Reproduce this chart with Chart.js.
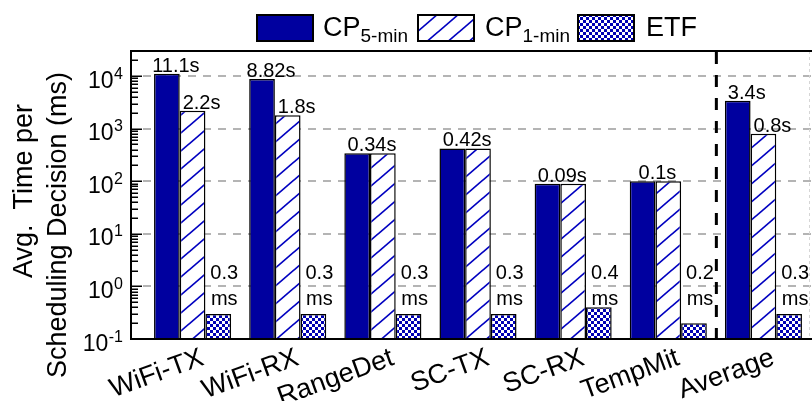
<!DOCTYPE html>
<html>
<head>
<meta charset="utf-8">
<script src="https://cdn.jsdelivr.net/npm/chart.js@4.4.1/dist/chart.umd.min.js"></script>
<style>
  html, body { margin: 0; padding: 0; background: #fff; }
  #wrap { position: relative; width: 812px; height: 401px; font-family: 'Liberation Sans', Arial, sans-serif; }
  #chart { position: absolute; left: 0; top: 0; }
  .sw { position: absolute; top: 14px; width: 58px; height: 28px; }
  .lt { position: absolute; top: 14px; font-size: 27px; line-height: 27px; color: #000; white-space: nowrap; }
  .lt sub { font-size: 19px; vertical-align: -6px; line-height: 0; }
</style>
</head>
<body>
<div id="wrap">
  <canvas id="chart" width="812" height="401"></canvas>
  <canvas class="sw" id="sw0" width="58" height="28" style="left:256px"></canvas>
  <span class="lt" style="left:323px">CP<sub>5-min</sub></span>
  <canvas class="sw" id="sw1" width="58" height="28" style="left:417px"></canvas>
  <span class="lt" style="left:485px">CP<sub>1-min</sub></span>
  <canvas class="sw" id="sw2" width="58" height="28" style="left:577px"></canvas>
  <span class="lt" style="left:646px">ETF</span>
</div>
<script>
// Benchmarks and the average time per scheduling decision (milliseconds)
const categories = ['WiFi-TX', 'WiFi-RX', 'RangeDet', 'SC-TX', 'SC-RX', 'TempMit', 'Average'];
const seriesNames = ['CP5-min', 'CP1-min', 'ETF'];
const cp5Ms = [11100, 8820, 340, 420, 90, 100, 3400];
const cp1Ms = [2200, 1800, 340, 420, 90, 100, 800];
const etfMs = [0.3, 0.3, 0.3, 0.3, 0.4, 0.2, 0.3];
const yExponents = [-1, 0, 1, 2, 3, 4];
const yTitleLines = ['Avg.  Time per', 'Scheduling Decision (ms)'];

const FONT = "'Liberation Sans', Arial, sans-serif";
const NAVY = '#00009f';
const LINE_BLUE = '#0000c0';

function hatchPattern() {
  const w = 21, h = 18;
  const c = document.createElement('canvas');
  c.width = w; c.height = h;
  const g = c.getContext('2d');
  g.fillStyle = '#fff';
  g.fillRect(0, 0, w, h);
  g.strokeStyle = LINE_BLUE;
  g.lineWidth = 1.7;
  for (const dx of [-w, 0, w]) {
    g.beginPath();
    g.moveTo(dx - w, 2 * h);
    g.lineTo(dx + 2 * w, -h);
    g.stroke();
  }
  return g.createPattern(c, 'repeat');
}

function checkerPattern() {
  const s = 3;
  const c = document.createElement('canvas');
  c.width = 2 * s; c.height = 2 * s;
  const g = c.getContext('2d');
  g.fillStyle = '#fff';
  g.fillRect(0, 0, 2 * s, 2 * s);
  g.fillStyle = '#0000b4';
  g.fillRect(0, 0, s, s);
  g.fillRect(s, s, s, s);
  return g.createPattern(c, 'repeat');
}

const fills = [NAVY, hatchPattern(), checkerPattern()];

// legend swatches
fills.forEach((f, i) => {
  const g = document.getElementById('sw' + i).getContext('2d');
  g.fillStyle = f;
  g.fillRect(0, 0, 58, 28);
  g.strokeStyle = '#000';
  g.lineWidth = 2;
  g.strokeRect(1, 1, 56, 26);
});

const secLabel = v => String(Number((v / 1000).toPrecision(3))) + 's';

// frame, gridlines, ticks, separator, axis title and value labels
const decor = {
  id: 'decor',
  beforeDatasetsDraw(chart) {
    const { ctx, chartArea, scales: { y } } = chart;
    const x0 = 131, x1 = 812;
    ctx.save();
    ctx.strokeStyle = '#b4b4b4';
    ctx.lineWidth = 2;
    ctx.setLineDash([8, 7]);
    for (const e of yExponents) {
      if (e === yExponents[0]) continue;
      const py = Math.round(y.getPixelForValue(Math.pow(10, e)));
      ctx.beginPath();
      ctx.moveTo(x0 + 12, py);
      ctx.lineTo(x1, py);
      ctx.stroke();
    }
    // faint right border
    ctx.strokeStyle = '#d6d6d6';
    ctx.lineWidth = 1;
    ctx.setLineDash([3, 3]);
    ctx.beginPath();
    ctx.moveTo(809.5, chartArea.top);
    ctx.lineTo(809.5, chartArea.bottom);
    ctx.stroke();
    ctx.restore();
  },
  afterDatasetsDraw(chart) {
    const { ctx, chartArea, scales: { x, y } } = chart;
    const x0 = 131, x1 = 812;
    const top = chartArea.top, bot = chartArea.bottom;
    ctx.save();
    // tick marks on the left axis, pointing inward
    ctx.strokeStyle = '#000';
    ctx.lineWidth = 1.5;
    const maxV = y.max;
    for (const e of yExponents) {
      for (let k = 1; k <= 9; k++) {
        const v = k * Math.pow(10, e);
        if (v > maxV * 1.0001) break;
        const py = Math.round(y.getPixelForValue(v)) + 0.25;
        const len = k === 1 ? 11 : 7;
        ctx.beginPath();
        ctx.moveTo(x0, py);
        ctx.lineTo(x0 + len, py);
        ctx.stroke();
      }
    }
    // separator before the average group
    const sx = (x.getPixelForValue(5) + x.getPixelForValue(6)) / 2 + 0.5;
    ctx.lineWidth = 3;
    ctx.setLineDash([12, 11]);
    ctx.beginPath();
    ctx.moveTo(sx, top + 1);
    ctx.lineTo(sx, bot);
    ctx.stroke();
    ctx.setLineDash([]);
    // frame
    ctx.lineWidth = 2;
    ctx.beginPath();
    ctx.moveTo(x1, top);
    ctx.lineTo(x0, top);
    ctx.lineTo(x0, bot);
    ctx.lineTo(x1, bot);
    ctx.stroke();

    // y tick labels 10^e
    ctx.fillStyle = '#000';
    const xr = 123;
    for (const e of yExponents) {
      const py = y.getPixelForValue(Math.pow(10, e));
      const ex = String(e);
      ctx.font = '16px ' + FONT;
      const ew = ctx.measureText(ex).width;
      ctx.textAlign = 'left';
      ctx.textBaseline = 'alphabetic';
      ctx.fillText(ex, xr - ew, py + 2.5);
      ctx.font = '23px ' + FONT;
      ctx.textAlign = 'right';
      ctx.fillText('10', xr - ew - 0.5, py + 11.5);
    }

    // y axis title, two rotated lines
    ctx.font = '27px ' + FONT;
    ctx.textAlign = 'center';
    ctx.textBaseline = 'middle';
    const titlePos = [[25, 191], [59, 225]];
    yTitleLines.forEach((t, i) => {
      ctx.save();
      ctx.translate(titlePos[i][0], titlePos[i][1]);
      ctx.rotate(-Math.PI / 2);
      ctx.fillText(t, 0, 0);
      ctx.restore();
    });

    // value labels
    ctx.font = '20px ' + FONT;
    ctx.textAlign = 'center';
    ctx.textBaseline = 'alphabetic';
    const m0 = chart.getDatasetMeta(0).data;
    const m1 = chart.getDatasetMeta(1).data;
    const m2 = chart.getDatasetMeta(2).data;
    const base = y.getPixelForValue(1);
    categories.forEach((c, i) => {
      if (cp5Ms[i] === cp1Ms[i]) {
        const bx = (m0[i].x + m1[i].x) / 2 + 2;
        ctx.fillText(secLabel(cp5Ms[i]), bx, Math.min(m0[i].y, m1[i].y) - 2);
      } else {
        ctx.fillText(secLabel(cp5Ms[i]), m0[i].x + 9, m0[i].y - 2);
        ctx.fillText(secLabel(cp1Ms[i]), m1[i].x + 9, m1[i].y - 2);
      }
      ctx.fillText(etfMs[i].toFixed(1), m2[i].x + 6, base - 7);
      ctx.fillText('ms', m2[i].x + 6, base + 19);
    });
    ctx.restore();
  }
};

Chart.defaults.font.family = FONT;
Chart.defaults.color = '#000';

new Chart(document.getElementById('chart'), {
  type: 'bar',
  data: {
    labels: categories,
    datasets: [cp5Ms, cp1Ms, etfMs].map((d, i) => ({
      label: seriesNames[i],
      data: d,
      backgroundColor: fills[i],
      borderColor: '#000',
      borderWidth: 1.5,
      borderSkipped: 'start',
      categoryPercentage: 0.81,
      barPercentage: 1.0
    }))
  },
  options: {
    responsive: false,
    animation: false,
    events: [],
    layout: { padding: { left: 8, right: 1, top: 51, bottom: 0 } },
    plugins: { legend: { display: false }, tooltip: { enabled: false } },
    scales: {
      x: {
        type: 'category',
        offset: true,
        grid: { display: false },
        border: { display: false },
        ticks: {
          font: { size: 27 },
          minRotation: 20,
          maxRotation: 20,
          padding: -5,
          labelOffset: 10,
          autoSkip: false
        },
        afterFit(scale) { scale.height = 62; }
      },
      y: {
        type: 'logarithmic',
        min: 0.1,
        max: 30000,
        grid: { display: false, drawTicks: false },
        border: { display: false },
        ticks: { display: false },
        title: { display: false },
        afterFit(scale) { scale.width = 137; }
      }
    }
  },
  plugins: [decor]
});
</script>
</body>
</html>
